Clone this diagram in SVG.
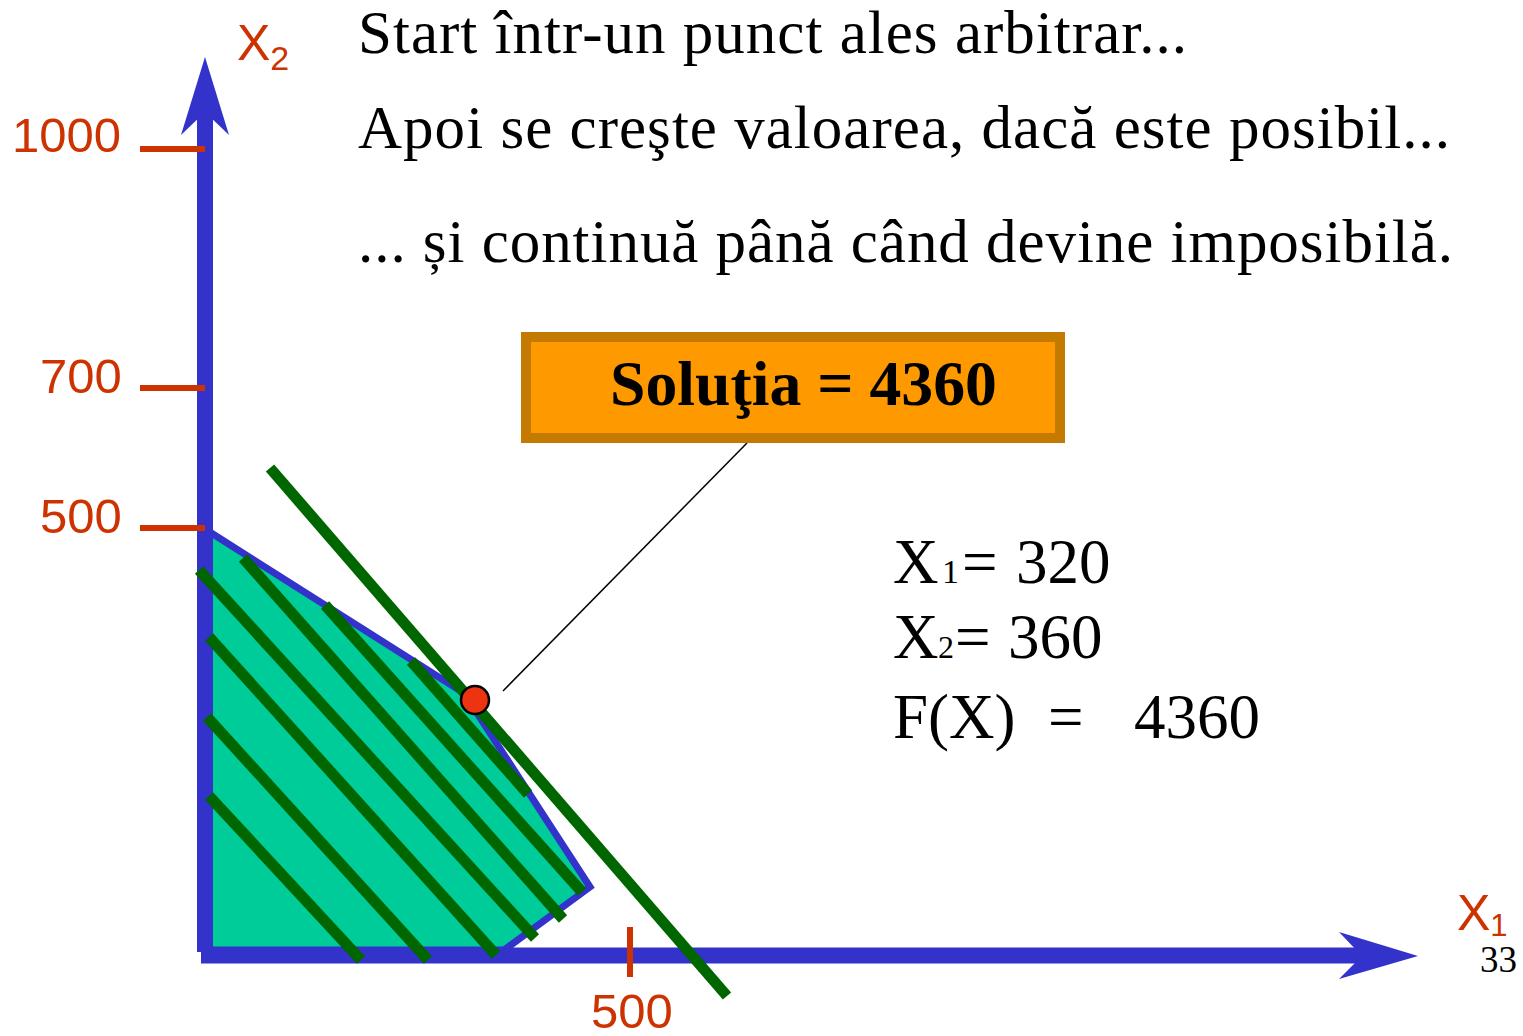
<svg xmlns="http://www.w3.org/2000/svg" width="1523" height="1036" viewBox="0 0 1523 1036">
<style>
.ser{font-family:"Liberation Serif","Times New Roman",serif;fill:#000}
.lab{font-family:"Liberation Sans",Arial,sans-serif;fill:#CC3300}
.tick{stroke:#CC3300;stroke-width:6;fill:none}
.axis{stroke:#3333CC;stroke-width:16;fill:none}
.hatch{stroke:#006600;stroke-width:11;stroke-linecap:butt;fill:none}
</style>
<rect width="1523" height="1036" fill="#fff"/>
<g id="region">
<polygon points="205,529 464,693 590,887 504,950 205,950" fill="#00CC99" stroke="#3333CC" stroke-width="7" stroke-linejoin="miter"/>
</g>
<g id="axes">
<line class="axis" x1="205" y1="952" x2="205" y2="112"/>
<line class="axis" x1="201" y1="955.5" x2="1362" y2="955.5"/>
<polygon points="205,57 229,135 205,112 181,135" fill="#3333CC"/>
<polygon points="1418,956 1339,979 1362,956 1339,932" fill="#3333CC"/>
<line class="tick" x1="140" y1="149" x2="205" y2="149"/>
<line class="tick" x1="140" y1="388" x2="205" y2="388"/>
<line class="tick" x1="140" y1="528" x2="205" y2="528"/>
<line class="tick" x1="630" y1="927" x2="630" y2="977"/>
<text class="lab" x="12" y="152" font-size="49">1000</text>
<text class="lab" x="40" y="393" font-size="49">700</text>
<text class="lab" x="40" y="533" font-size="49">500</text>
<text class="lab" x="591" y="1028" font-size="49">500</text>
<text class="lab" x="237" y="60" font-size="50">X<tspan font-size="34" dy="10">2</tspan></text>
<text class="lab" x="1457" y="930" font-size="50">X<tspan font-size="31" dy="6">1</tspan></text>
</g>
<g id="hatching">
<line class="hatch" x1="209" y1="796" x2="361" y2="960"/>
<line class="hatch" x1="207" y1="717" x2="428" y2="960"/>
<line class="hatch" x1="209" y1="637" x2="496" y2="955"/>
<line class="hatch" x1="199" y1="570" x2="535" y2="938"/>
<line class="hatch" x1="243" y1="558" x2="563" y2="919"/>
<line class="hatch" x1="325" y1="605" x2="582" y2="892"/>
<line class="hatch" x1="411" y1="661" x2="528" y2="794"/>
</g>
<g id="objective-line">
<line class="hatch" x1="270" y1="468" x2="727" y2="996"/>
</g>
<g id="connectors">
<line x1="503" y1="691" x2="747" y2="443" stroke="#000" stroke-width="1.5"/>
</g>
<g id="optimum">
<circle cx="475" cy="700" r="14" fill="#EE3311" stroke="#000" stroke-width="2.5"/>
</g>
<g id="solution-box">
<rect x="526" y="337" width="534" height="101" fill="#FF9900" stroke="#C47A00" stroke-width="10"/>
<text class="ser" x="610" y="405" font-size="63" font-weight="bold" textLength="387" lengthAdjust="spacingAndGlyphs">Soluţia = 4360</text>
</g>
<g id="steps">
<text class="ser" x="358" y="53" font-size="61" textLength="829">Start într-un punct ales arbitrar...</text>
<text class="ser" x="358" y="148" font-size="61" textLength="1092">Apoi se creşte valoarea, dacă este posibil...</text>
<text class="ser" x="358" y="262" font-size="61" textLength="1095">... și continuă până când devine imposibilă.</text>
</g>
<g id="result">
<text class="ser" font-size="63"><tspan x="893" y="583">X</tspan><tspan x="942" y="583" font-size="34">1</tspan><tspan x="962" y="583">=</tspan><tspan x="1016" y="583">320</tspan></text>
<text class="ser" font-size="63"><tspan x="893" y="658">X</tspan><tspan x="938" y="658" font-size="32">2</tspan><tspan x="955" y="658">=</tspan><tspan x="1008" y="658">360</tspan></text>
<text class="ser" font-size="63"><tspan x="893" y="738">F(X)</tspan><tspan x="1048" y="738">=</tspan><tspan x="1134" y="738">4360</tspan></text>
</g>
<g id="page-number">
<text class="ser" x="1480" y="972" font-size="37">33</text>
</g>
</svg>
